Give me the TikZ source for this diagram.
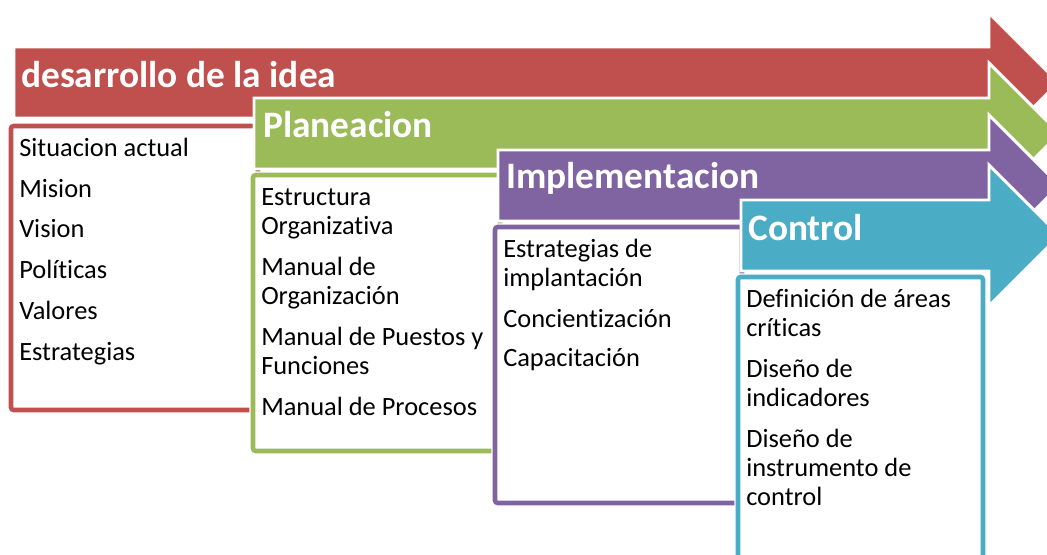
\documentclass[tikz,border=0pt]{standalone}
\usepackage{fontspec}
\setmainfont{Carlito}[Ligatures=NoCommon]
\usepackage{tikz}
\definecolor{stepred}{RGB}{192, 80, 77}
\definecolor{stepgreen}{RGB}{155, 187, 89}
\definecolor{steppurple}{RGB}{128, 100, 162}
\definecolor{stepteal}{RGB}{75, 172, 198}

\begin{document}
\begin{tikzpicture}[x=0.75pt, y=-0.75pt,
    band/.style={draw=white, line width=2.2pt, line join=miter},
    listbox/.style={fill=white, line width=3.4pt, rounded corners=2pt,
      preaction={draw=white, line width=5.6pt}},
    title/.style={anchor=base west, inner sep=0pt, text=white,
      font=\bfseries\fontsize{28}{31}\selectfont},
    entry/.style={anchor=base west, inner sep=0pt, text=black,
      font=\fontsize{19.8}{21.75}\selectfont}]
  \useasboundingbox (0,0) rectangle (1047,554);
  \clip (0,0) rectangle (1047,554);

  % Step 1: desarrollo de la idea
  \fill[stepred, band] (14,47) -- (989,47) -- (989,13) -- (1058.5,82.5)
    -- (989,152) -- (989,118) -- (14,118) -- cycle;
  \node[title] (tidea) at (21,87) {desarrollo de la idea};
  \draw[stepred, listbox] (11,126) rectangle (258,410);
  \foreach \txt/\yy [count=\i] in {Situacion actual/156, Mision/197,
      Vision/237, Políticas/278, Valores/319, Estrategias/360}
    \node[entry] (idea\i) at (19,\yy) {\txt};

  % Step 2: Planeacion
  \fill[stepgreen, band] (254,98) -- (989,98) -- (989,63) -- (1059.5,133.5)
    -- (989,204) -- (989,169) -- (254,169) -- cycle;
  \node[title] (tplan) at (263,137) {Planeacion};
  \draw[stepgreen, listbox] (253,175) rectangle (500,451);
  \foreach \txt/\yy [count=\i] in {Estructura/205, Organizativa/234,
      Manual de/275, Organización/304, Manual de Puestos y/345,
      Funciones/374, Manual de Procesos/415}
    \node[entry] (plan\i) at (261,\yy) {\txt};

  % Step 3: Implementacion
  \fill[steppurple, band] (498,150) -- (989,150) -- (989,115) -- (1059.5,185.5)
    -- (989,256) -- (989,221) -- (498,221) -- cycle;
  \node[title] (timpl) at (506,188) {Implementacion};
  \draw[steppurple, listbox] (495,227) rectangle (742,503);
  \foreach \txt/\yy [count=\i] in {Estrategias de/257, implantación/286,
      Concientización/327, Capacitación/366}
    \node[entry] (impl\i) at (503,\yy) {\txt};

  % Step 4: Control
  \fill[stepteal, band] (741,200) -- (989,200) -- (989,165) -- (1059.5,235.5)
    -- (989,306) -- (989,271) -- (741,271) -- cycle;
  \node[title] (tctrl) at (748,240) {Control};
  \draw[stepteal, listbox] (738,277) rectangle (983,570);
  \foreach \txt/\yy [count=\i] in {Definición de áreas/307, críticas/336,
      Diseño de/377, indicadores/406, Diseño de/447,
      instrumento de/476, control/505}
    \node[entry] (ctrl\i) at (746,\yy) {\txt};
\end{tikzpicture}
\end{document}
